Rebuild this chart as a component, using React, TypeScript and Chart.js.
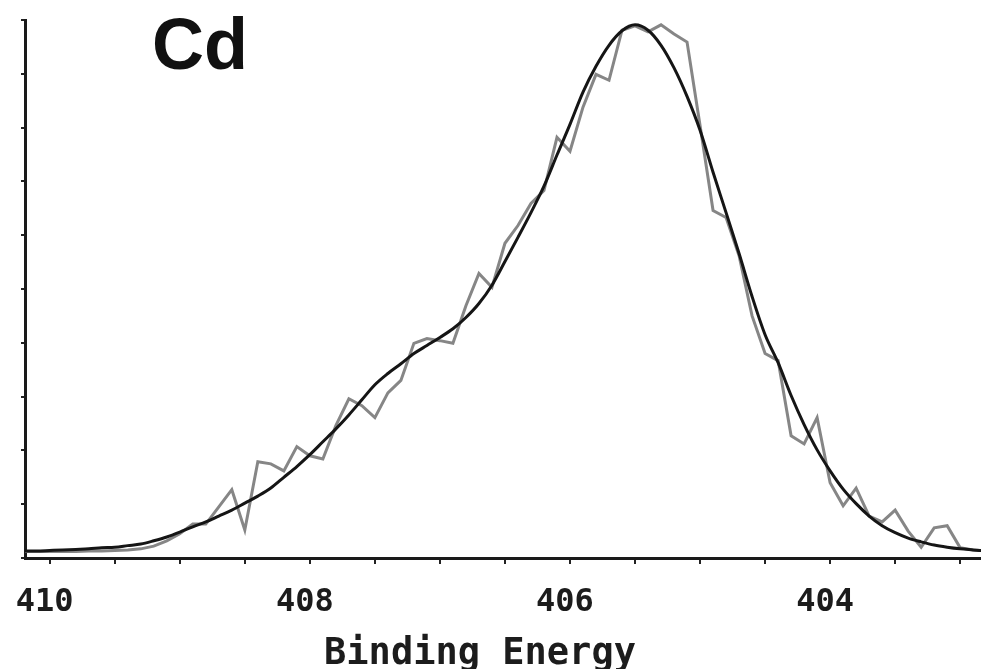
import React, { useEffect, useRef } from 'react';
import { Chart, registerables } from 'chart.js';

Chart.register(...registerables);

// Binding energy (eV), 0.1 eV steps, high to low
const bindingEnergy: number[] = [
  410.2, 410.1, 410.0, 409.9, 409.8, 409.7, 409.6, 409.5, 409.4, 409.3,
  409.2, 409.1, 409.0, 408.9, 408.8, 408.7, 408.6, 408.5, 408.4, 408.3,
  408.2, 408.1, 408.0, 407.9, 407.8, 407.7, 407.6, 407.5, 407.4, 407.3,
  407.2, 407.1, 407.0, 406.9, 406.8, 406.7, 406.6, 406.5, 406.4, 406.3,
  406.2, 406.1, 406.0, 405.9, 405.8, 405.7, 405.6, 405.5, 405.4, 405.3,
  405.2, 405.1, 405.0, 404.9, 404.8, 404.7, 404.6, 404.5, 404.4, 404.3,
  404.2, 404.1, 404.0, 403.9, 403.8, 403.7, 403.6, 403.5, 403.4, 403.3,
  403.2, 403.1, 403.0, 402.9, 402.8,
];

// Measured Cd 3d5/2 intensity (arbitrary units)
const measured: number[] = [
  0.12, 0.12, 0.12, 0.12, 0.12, 0.13, 0.13, 0.14, 0.15, 0.17,
  0.22, 0.32, 0.45, 0.63, 0.63, 0.95, 1.27, 0.52, 1.79, 1.75,
  1.62, 2.07, 1.90, 1.84, 2.46, 2.96, 2.83, 2.61, 3.07, 3.30,
  3.99, 4.08, 4.04, 3.99, 4.69, 5.29, 5.03, 5.85, 6.18, 6.59,
  6.83, 7.82, 7.56, 8.38, 8.99, 8.88, 9.81, 9.89, 9.78, 9.91,
  9.74, 9.59, 8.04, 6.46, 6.33, 5.62, 4.50, 3.80, 3.67, 2.27,
  2.12, 2.61, 1.40, 0.97, 1.30, 0.78, 0.67, 0.89, 0.50, 0.20,
  0.56, 0.60, 0.19, 0.15, 0.13,
];

// Fitted envelope
const fitted: number[] = [
  0.13, 0.13, 0.14, 0.15, 0.16, 0.17, 0.19, 0.20, 0.23, 0.26,
  0.32, 0.39, 0.48, 0.58, 0.67, 0.78, 0.89, 1.02, 1.15, 1.30,
  1.50, 1.70, 1.92, 2.16, 2.40, 2.66, 2.94, 3.22, 3.43, 3.61,
  3.80, 3.95, 4.10, 4.26, 4.47, 4.73, 5.07, 5.51, 5.96, 6.42,
  6.91, 7.49, 8.06, 8.66, 9.14, 9.53, 9.80, 9.91, 9.81, 9.53,
  9.11, 8.58, 7.95, 7.17, 6.42, 5.66, 4.86, 4.15, 3.63, 3.02,
  2.48, 2.01, 1.62, 1.28, 1.01, 0.78, 0.60, 0.47, 0.37, 0.30,
  0.24, 0.20, 0.17, 0.15, 0.13,
];

const xTickValues: number[] = [410, 409.5, 409, 408.5, 408, 407.5, 407, 406.5, 406, 405.5, 405, 404.5, 404, 403.5, 403];
const xTickLabels: number[] = [410, 408, 406, 404];
const elementLabel = 'Cd';
const axisTitle = 'Binding Energy';

const textPlugin = {
  id: 'xpsTexts',
  afterDraw(chart: any) {
    const ctx = chart.ctx as CanvasRenderingContext2D;
    ctx.save();
    ctx.fillStyle = '#111111';
    ctx.textBaseline = 'alphabetic';
    ctx.textAlign = 'left';
    ctx.font = 'bold 72px "Liberation Sans", Arial, sans-serif';
    ctx.fillText(elementLabel, 152, 69);
    ctx.font = 'bold 37px "DejaVu Sans Mono", monospace';
    ctx.textAlign = 'center';
    ctx.fillStyle = '#1c1c1c';
    ctx.fillText(axisTitle, 480, 664);
    ctx.restore();
  },
};

export default function App() {
  const ref = useRef<HTMLCanvasElement>(null);

  useEffect(() => {
    document.body.style.margin = '0';
    document.body.style.overflow = 'hidden';
    const canvas = ref.current;
    if (!canvas) return;
    const chart = new Chart(canvas, {
      type: 'line',
      data: {
        datasets: [
          {
            label: 'Fit',
            data: bindingEnergy.map((e, i) => ({ x: e, y: fitted[i] })),
            borderColor: '#151515',
            borderWidth: 3,
            pointRadius: 0,
            cubicInterpolationMode: 'monotone',
            fill: false,
          },
          {
            label: 'Measured',
            data: bindingEnergy.map((e, i) => ({ x: e, y: measured[i] })),
            borderColor: '#868686',
            borderWidth: 3,
            pointRadius: 0,
            tension: 0,
            fill: false,
          },
        ],
      },
      options: {
        animation: false,
        responsive: false,
        devicePixelRatio: 1,
        layout: { padding: { left: 21, right: 0, top: 20, bottom: 28.6 } },
        plugins: {
          legend: { display: false },
          tooltip: { enabled: false },
        },
        scales: {
          x: {
            type: 'linear',
            reverse: true,
            min: 402.84,
            max: 410.19,
            afterBuildTicks: (scale: any) => {
              scale.ticks = xTickValues.map((v) => ({ value: v }));
            },
            grid: {
              display: true,
              drawOnChartArea: false,
              drawTicks: true,
              tickLength: 6,
              lineWidth: 2,
              color: '#222222',
            },
            border: { display: true, color: '#1a1a1a', width: 3 },
            ticks: {
              autoSkip: false,
              maxRotation: 0,
              padding: 19,
              labelOffset: -5,
              color: '#1c1c1c',
              font: { family: '"DejaVu Sans Mono", monospace', size: 32, weight: 'bold' },
              callback: (value: any) => (xTickLabels.includes(Number(value)) ? String(value) : ''),
            },
          },
          y: {
            type: 'linear',
            min: 0,
            max: 10,
            ticks: { display: false, stepSize: 1 },
            grid: {
              display: true,
              drawOnChartArea: false,
              drawTicks: true,
              tickLength: 4,
              lineWidth: 2,
              color: '#222222',
            },
            border: { display: true, color: '#1a1a1a', width: 3 },
          },
        },
      },
      plugins: [textPlugin],
    } as any);
    return () => chart.destroy();
  }, []);

  return (
    <div style={{ width: 981, height: 669, background: '#ffffff', overflow: 'hidden' }}>
      <canvas ref={ref} width={981} height={669} style={{ display: 'block' }} />
    </div>
  );
}
